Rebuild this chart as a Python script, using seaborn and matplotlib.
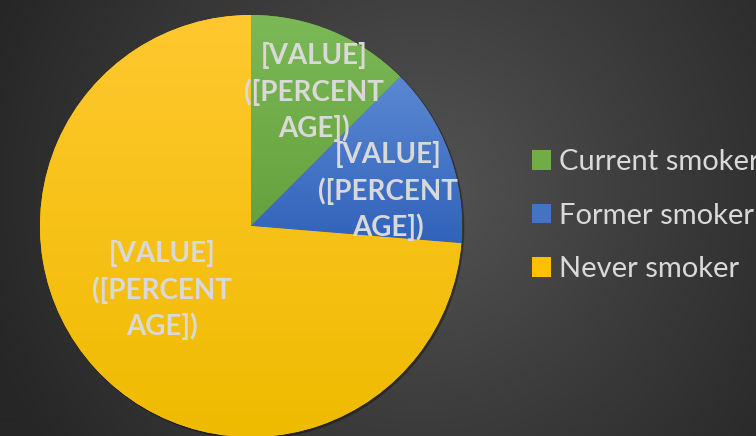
import numpy as np
import matplotlib
matplotlib.use("Agg")
import matplotlib.pyplot as plt
import seaborn as sns
from matplotlib.colors import LinearSegmentedColormap
from matplotlib.patches import Circle

# ---- data ----
categories = ["Current smoker", "Former smoker", "Never smoker"]
values = [12.5, 13.8, 73.7]
label_text = "[VALUE]\n([PERCENT\nAGE])"
colors_top = ["#7bb957", "#5b88d2", "#ffc830"]
colors_bottom = ["#66a23c", "#3163bb", "#efbb00"]
colors_mid = ["#70ad47", "#4472c4", "#ffc000"]

sns.set_theme(style="dark")
plt.rcParams["font.family"] = ["Lato", "DejaVu Sans"]

W, H = 756, 436
fig = plt.figure(figsize=(W / 100, H / 100), dpi=100)

# background radial gradient
bg = fig.add_axes([0, 0, 1, 1])
yy, xx = np.mgrid[0:H, 0:W]
d = np.hypot(xx - 420, yy - 190) / 460.0
d = np.clip(d, 0, 1)
bgcmap = LinearSegmentedColormap.from_list("bg", ["#545454", "#3c3c3c", "#262626"])
bg.imshow(d, cmap=bgcmap, vmin=0, vmax=1, extent=[0, W, H, 0], aspect="auto")
bg.set_xlim(0, W)
bg.set_ylim(H, 0)
bg.axis("off")

# pie axes
R = 211.0
cx, cy = 251.0, 226.0
lim = 1.02
half = R * lim
ax = fig.add_axes([(cx - half) / W, (H - cy - half) / H, 2 * half / W, 2 * half / H])
ax.patch.set_alpha(0)

# subtle shadow
shadow = Circle((0.008, -0.008), 1.0, color="black", alpha=0.25, zorder=0)
ax.add_patch(shadow)

wedges, _ = ax.pie(values, startangle=90, counterclock=False, colors=colors_mid,
                   radius=1.0, wedgeprops=dict(linewidth=0, zorder=1))
ax.set_xlim(-lim, lim)
ax.set_ylim(-lim, lim)
ax.set_aspect("auto")
ax.axis("off")

# gradient fill per wedge
for w, ct, cb in zip(wedges, colors_top, colors_bottom):
    ext = w.get_path().get_extents(w.get_patch_transform())
    cmap = LinearSegmentedColormap.from_list("g", [ct, cb])
    grad = np.linspace(0, 1, 256).reshape(-1, 1)
    im = ax.imshow(grad, cmap=cmap, extent=[ext.x0, ext.x1, ext.y0, ext.y1],
                   aspect="auto", zorder=2, origin="upper")
    im.set_clip_path(w)
ax.set_xlim(-lim, lim)
ax.set_ylim(-lim, lim)

# data labels
label_pos = [(314, 92), (388, 191), (162, 290)]
for (px, py) in label_pos:
    ax.text((px - cx) / R, (cy - py) / R, label_text, ha="center", va="center",
            fontsize=20, fontweight="bold", color="#d9d9d9", linespacing=1.38,
            zorder=5)

# legend
leg = fig.legend(wedges, categories, loc="upper left",
                 bbox_to_anchor=(532 / W, 1 - 149 / H), frameon=False,
                 fontsize=21, labelcolor="#d9d9d9", handlelength=0.66,
                 handleheight=0.66, handletextpad=0.25, labelspacing=0.95,
                 borderpad=0, borderaxespad=0)
for h, c in zip(leg.legend_handles, colors_mid):
    h.set_facecolor(c)

fig.savefig("out.png", dpi=100)
